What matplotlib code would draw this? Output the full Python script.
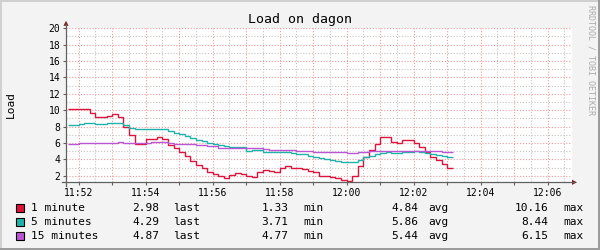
import numpy as np
import matplotlib
matplotlib.use("Agg")
import matplotlib.pyplot as plt
from matplotlib.patches import Rectangle, Polygon
from matplotlib.ticker import MultipleLocator, FuncFormatter

# samples every 10 s, first one at 11:51:40 (time in s relative to 11:52:00)
start = -20
step = 10
base_clock = 11 * 3600 + 52 * 60

one_min = [10.16, 10.16, 10.16, 10.16, 9.6, 9.12, 9.15, 9.3, 9.5, 9.12,
           8.0, 6.96, 5.87, 5.87, 6.44, 6.44, 6.68, 6.52, 5.74, 5.35,
           4.95, 4.35, 3.75, 3.3, 2.9, 2.5, 2.2, 1.96, 1.67, 2.05,
           2.28, 2.16, 1.96, 1.84, 2.41, 2.65, 2.53, 2.41, 2.9, 3.14,
           2.9, 2.9, 2.77, 2.6, 2.45, 2.0, 2.0, 1.88, 1.67, 1.43,
           1.33, 2.0, 3.2, 4.32, 5.2, 5.9, 6.67, 6.67, 6.15, 5.97,
           6.33, 6.42, 6.02, 5.52, 4.87, 4.32, 3.91, 3.38, 2.98]

five_min = [8.18, 8.18, 8.3, 8.4, 8.4, 8.26, 8.26, 8.42, 8.42, 8.44,
            8.15, 7.88, 7.65, 7.65, 7.65, 7.65, 7.65, 7.65, 7.42, 7.23,
            7.05, 6.83, 6.58, 6.42, 6.18, 6.05, 5.9, 5.75, 5.6, 5.45,
            5.45, 5.45, 5.05, 5.15, 5.1, 4.95, 4.85, 4.85, 4.93, 4.93,
            4.75, 4.62, 4.62, 4.42, 4.25, 4.12, 4.0, 3.91, 3.8, 3.71,
            3.71, 3.71, 3.95, 4.3, 4.4, 4.6, 4.72, 4.85, 4.75, 4.75,
            4.85, 4.93, 5.0, 4.88, 4.75, 4.6, 4.5, 4.4, 4.29]

fifteen_min = [5.86, 5.86, 5.95, 5.95, 5.95, 5.95, 6.05, 6.05, 6.05, 6.15,
               6.02, 6.02, 6.02, 6.02, 6.02, 6.1, 6.1, 6.1, 6.0, 5.9,
               5.9, 5.82, 5.82, 5.72, 5.72, 5.58, 5.58, 5.42, 5.42, 5.42,
               5.42, 5.42, 5.33, 5.33, 5.33, 5.3, 5.13, 5.13, 5.13, 5.13,
               5.13, 5.05, 5.05, 5.05, 4.95, 4.95, 4.95, 4.95, 4.85, 4.85,
               4.77, 4.77, 4.93, 4.93, 5.05, 5.05, 5.05, 5.05, 5.05, 5.05,
               5.05, 5.05, 5.05, 5.05, 5.05, 5.05, 5.05, 4.87, 4.87]

names = ["1 minute", "5 minutes", "15 minutes"]
colors = ["#DC143C", "#20B2AA", "#BA55D3"]
last_vals = ["2.98", "4.29", "4.87"]
min_vals = ["1.33", "3.71", "4.77"]
avg_vals = ["4.84", "5.86", "5.44"]
max_vals = ["10.16", "8.44", "6.15"]

MONO = "DejaVu Sans Mono"
plt.rcParams["font.family"] = MONO

# plot area in pixels
L, R, T, B = 66, 572, 28.3, 182.3
W, H = 600, 250
axis_col = "#606060"
arrow_col = "#7f1f1f"


def clock(x, pos):
    s = int(round(base_clock + x))
    if (s // 60) % 2:
        return ""
    return "%02d:%02d" % (s // 3600, (s // 60) % 60)


def main():
    fig = plt.figure(figsize=(6, 2.5), dpi=100, facecolor="#f3f3f3")
    ax = fig.add_axes([L / W, (H - B) / H, (R - L) / W, (B - T) / H])
    ax.set_facecolor("white")
    for s in ax.spines.values():
        s.set_visible(False)

    for vals, c in zip([one_min, five_min, fifteen_min], colors):
        edges = start + step * np.arange(len(vals) + 1)
        ax.stairs(vals, edges, color=c, lw=1.0, baseline=None, zorder=3)

    ax.set_xlim(-22.7, 883.6)
    ax.set_ylim(1.195, 20)
    ax.xaxis.set_major_locator(MultipleLocator(60))
    ax.xaxis.set_minor_locator(MultipleLocator(30))
    ax.xaxis.set_major_formatter(FuncFormatter(clock))
    ax.yaxis.set_major_locator(MultipleLocator(2))
    ax.yaxis.set_minor_locator(MultipleLocator(1))
    ax.set_yticks(np.arange(2, 21, 2))

    ax.set_axisbelow(True)
    ax.grid(which="minor", color="#c4c4c4", lw=0.8, linestyle=(0, (1, 1.6)))
    ax.grid(which="major", color="#f29a9a", lw=0.8, linestyle=(0, (1, 1.6)))
    ax.tick_params(which="major", direction="out", length=2, width=0.8,
                   color=axis_col, labelsize=7, pad=2)
    ax.tick_params(which="minor", length=0)

    # overlay in pixel coordinates for frame, texts and legend
    ov = fig.add_axes([0, 0, 1, 1], zorder=5)
    ov.set_xlim(0, W)
    ov.set_ylim(H, 0)
    ov.axis("off")

    ov.add_patch(Rectangle((0, 0), W, 2, fc="#d0d0d0", ec="none"))
    ov.add_patch(Rectangle((0, 0), 2, H, fc="#d0d0d0", ec="none"))
    ov.add_patch(Rectangle((0, H - 2.5), W, 2.5, fc="#9c9c9c", ec="none"))
    ov.add_patch(Rectangle((W - 2.5, 0), 2.5, H, fc="#9c9c9c", ec="none"))

    # axes with arrows
    ov.plot([L, L], [B + 4, T - 4], color=axis_col, lw=0.9)
    ov.plot([L - 4, R + 2], [B, B], color=axis_col, lw=0.9)
    ov.add_patch(Polygon([(L - 2.6, T - 2.5), (L + 2.6, T - 2.5), (L, T - 7.5)],
                         closed=True, fc=arrow_col, ec="none"))
    ov.add_patch(Polygon([(R, B - 2.6), (R, B + 2.6), (R + 5, B)],
                         closed=True, fc=arrow_col, ec="none"))

    ov.text(300, 19.5, "Load on dagon", ha="center", va="center", fontsize=9.5)
    ov.text(10.8, 105, "Load", rotation=90, ha="center", va="center", fontsize=8)
    ov.text(590.5, 5, "RRDTOOL / TOBI OETIKER", rotation=270, ha="center",
            va="top", fontsize=6, color="#ababab")

    rows = [207.7, 222.3, 236.3]
    for i, yc in enumerate(rows):
        ov.add_patch(Rectangle((15.5, yc - 4), 8, 8, fc=colors[i], ec="black", lw=0.8))
        ov.text(30.7, yc, names[i], ha="left", va="center", fontsize=8)
        ov.text(159.5, yc, last_vals[i], ha="right", va="center", fontsize=8)
        ov.text(173.3, yc, "last", ha="left", va="center", fontsize=8)
        ov.text(288.5, yc, min_vals[i], ha="right", va="center", fontsize=8)
        ov.text(303.3, yc, "min", ha="left", va="center", fontsize=8)
        ov.text(418.5, yc, avg_vals[i], ha="right", va="center", fontsize=8)
        ov.text(428.3, yc, "avg", ha="left", va="center", fontsize=8)
        ov.text(548.5, yc, max_vals[i], ha="right", va="center", fontsize=8)
        ov.text(563.3, yc, "max", ha="left", va="center", fontsize=8)

    fig.savefig("out.png", dpi=100, facecolor=fig.get_facecolor())


if __name__ == '__main__':
    main()
